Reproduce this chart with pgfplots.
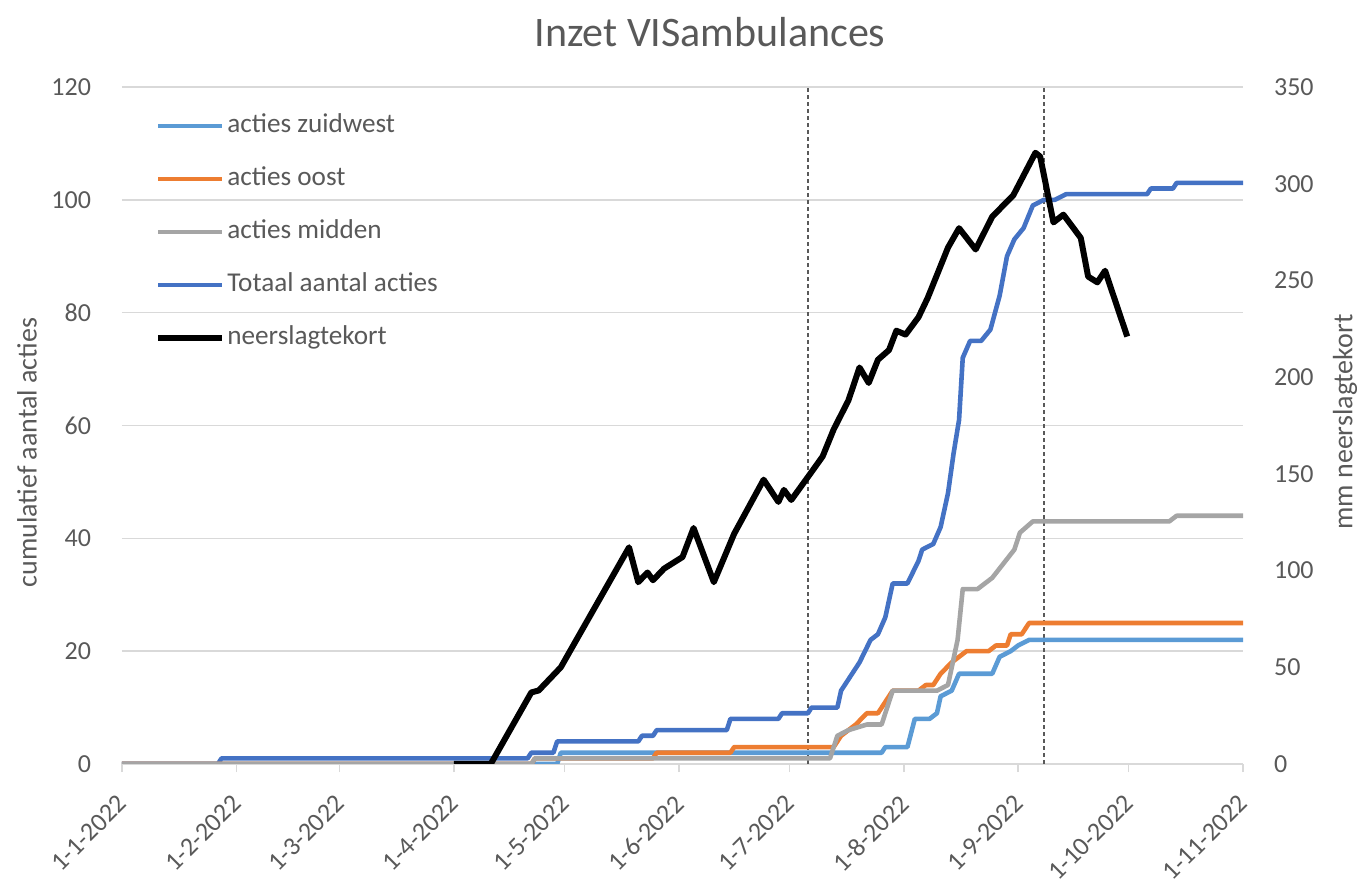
\documentclass[border=0pt]{standalone}
\usepackage{pgfplots}
\pgfplotsset{compat=1.18}
\usepackage{fontspec}
\setmainfont{Carlito}
\definecolor{zw}{HTML}{5B9BD5}
\definecolor{oost}{HTML}{ED7D31}
\definecolor{midden}{HTML}{A5A5A5}
\definecolor{totaal}{HTML}{4472C4}
\definecolor{txt}{HTML}{595959}
\definecolor{gridgray}{HTML}{D9D9D9}
\begin{document}
\begin{tikzpicture}
\useasboundingbox (-61pt,-60pt) rectangle (617.5pt,382pt);
\pgfplotsset{
  base/.style={width=560.5pt,height=338.5pt,scale only axis,at={(0pt,0pt)},anchor=south west,
    xmin=0,xmax=304,
    tick label style={font=\fontsize{13}{15}\selectfont, text=txt},
    /pgf/number format/assume math mode=true,
    label style={font=\fontsize{14}{16}\selectfont, text=txt}},
}
\begin{axis}[base, ymin=0, ymax=120, ytick={0,20,...,120},
  ymajorgrids, grid style={gridgray, line width=0.75pt},
  axis x line*=bottom, axis y line*=left,
  y axis line style={draw=none}, x axis line style={gridgray, line width=0.75pt, -},
  xtick={0,31,59,90,120,151,181,212,243,273,304},
  xticklabels={1-1-2022,1-2-2022,1-3-2022,1-4-2022,1-5-2022,1-6-2022,1-7-2022,1-8-2022,1-9-2022,1-10-2022,1-11-2022},
  x tick label style={rotate=45, anchor=north east, xshift=-6pt, yshift=-2pt},
  yticklabel style={xshift=-8pt},
  xtick style={gridgray, line width=0.75pt}, ytick style={draw=none},
  tick align=outside, major tick length=4pt,
  ylabel={cumulatief aantal acties},
  ylabel style={at={(axis description cs:-0.0847,0.46)}, anchor=center, rotate=0},
]
\addplot[txt, line width=0.75pt, dash pattern=on 2pt off 1.5pt, forget plot] coordinates {(186,0) (186,120)};
\addplot[txt, line width=0.75pt, dash pattern=on 2pt off 1.5pt, forget plot] coordinates {(250,0) (250,120)};
% Totaal
\addplot[totaal, line width=2.3pt, line join=round] coordinates {
(0,0) (26,0) (27,1) (110,1) (111,2) (117,2) (118,4) (140,4) (141,5) (144,5) (145,6) (164,6) (165,8) (178,8) (179,9) (186,9) (187,10) (194,10) (195,13) (197,15) (200,18) (203,22) (205,23) (207,26) (209,32) (213,32) (216,36) (217,38) (220,39) (222,42) (224,48) (225.5,55) (227,61) (228,72) (230,75) (233,75) (235.5,77) (238,83) (240,90) (242,93) (244.5,95) (247,99) (250,100) (253,100) (256,101) (278,101) (279,102) (285,102) (286,103) (304,103)};
% Zuidwest
\addplot[zw, line width=2.3pt, line join=round] coordinates {
(0,0) (118,0) (119,2) (206,2) (207,3) (213,3) (215,8) (219,8) (221,9) (222,12) (225,13) (227,16) (236,16) (238,19) (241,20) (243,21) (246,22) (304,22)};
% Oost
\addplot[oost, line width=2.3pt, line join=round] coordinates {
(0,0) (111,0) (112,1) (144,1) (145,2) (165,2) (166,3) (193,3) (195,5) (199,7) (202,9) (205,9) (209,13) (216,13) (218,14) (220,14) (222,16) (225,18) (229,20) (235,20) (237,21) (240,21) (241,23) (244,23) (246,25) (304,25)};
% Midden
\addplot[midden, line width=2.3pt, line join=round] coordinates {
(0,0) (111,0) (112,1) (192,1) (194,5) (197,6) (202,7) (206,7) (209,13) (221,13) (224,14) (226.6,22) (228,31) (232,31) (234,32) (236,33) (242,38) (243.5,41) (247,43) (284,43) (286,44) (304,44)};
\end{axis}
\begin{axis}[base, ymin=0, ymax=350, ytick={0,50,...,350},
  axis y line*=right, axis x line=none,
  y axis line style={draw=none}, ytick style={draw=none},
  yticklabel style={xshift=12pt},
  ylabel={mm neerslagtekort},
  ylabel style={at={(axis description cs:1.091,0.505)}, anchor=center, rotate=0},
  legend style={at={(0.0294,0.9675)}, anchor=north west, draw=none, fill=none, inner sep=0pt,
    row sep=10pt, font=\fontsize{13.6}{16}\selectfont, text=txt,
    nodes={inner xsep=1pt, inner ysep=2pt, text height=9.5pt, text depth=3pt}},
  legend cell align=left,
  legend image code/.code={\draw[#1] (0pt,0pt) -- (32pt,0pt);},
]
\addlegendimage{zw, line width=2.3pt}
\addlegendentry{acties zuidwest}
\addlegendimage{oost, line width=2.3pt}
\addlegendentry{acties oost}
\addlegendimage{midden, line width=2.3pt}
\addlegendentry{acties midden}
\addlegendimage{totaal, line width=2.3pt}
\addlegendentry{Totaal aantal acties}
\addplot[black, line width=3pt, line join=round] coordinates {
(90,0) (100,0) (111,37) (113,38) (119,50) (137.5,112) (140,94) (142.5,99) (144,95) (147,101) (152,107) (155,122) (160.5,94) (166,119) (174,147) (178,135.5) (179.5,141.7) (181.5,136.5) (187,151) (190,159) (193,173) (197,188) (200,205) (202.5,197) (205,209) (208,214) (210,224) (212.5,222) (216,231) (218.5,241) (224,267) (227,277) (231.5,266) (236,283) (241.7,294) (247.7,316) (249,314) (252.6,280) (255.3,284) (260,272) (262,252) (264.5,249) (266.6,255) (272.6,221)};
\addlegendentry{neerslagtekort}
\end{axis}
\node[font=\fontsize{21}{24}\selectfont, text=txt] at (294pt,366pt) {Inzet VISambulances};
\end{tikzpicture}
\end{document}
